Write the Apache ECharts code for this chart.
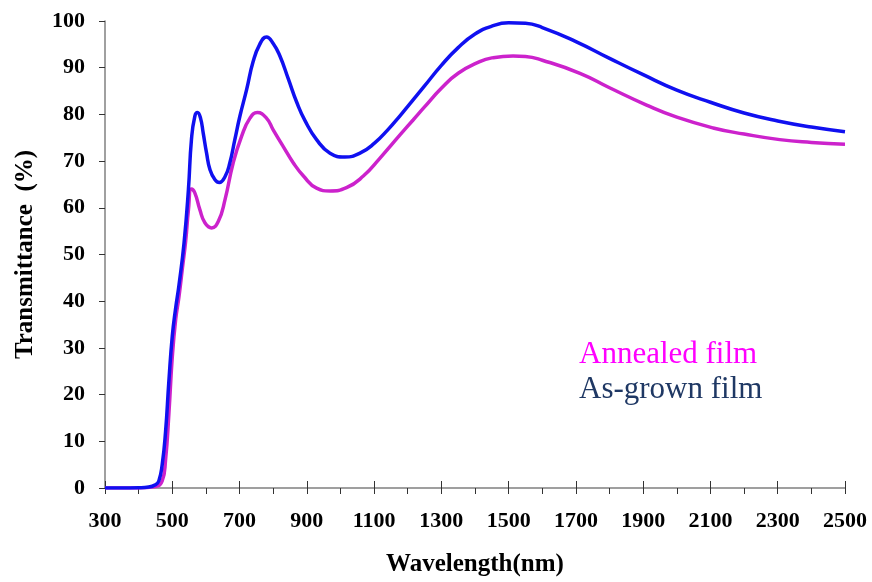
<!DOCTYPE html>
<html>
<head>
<meta charset="utf-8">
<script src="https://cdn.jsdelivr.net/npm/echarts@6/dist/echarts.min.js"></script>
<style>
  html, body { margin: 0; padding: 0; background: #fff; }
  #chart { width: 872px; height: 582px; }
</style>
</head>
<body>
<div id="chart"></div>
<script>
// Optical transmittance spectra of the film, as-grown and after annealing
const wavelengthTicks = [300, 500, 700, 900, 1100, 1300, 1500, 1700, 1900, 2100, 2300, 2500];
const transmittanceTicks = [0, 10, 20, 30, 40, 50, 60, 70, 80, 90, 100];

const asGrownNm = [300, 350, 400, 430, 450, 460, 470, 480, 490, 500, 510, 520, 535, 548, 557, 567, 575, 584, 592, 602, 612, 627, 640, 657, 671, 686, 701, 721, 740, 760, 780, 800, 820, 845, 870, 895, 929, 969, 1013, 1058, 1102, 1142, 1177, 1216, 1250, 1300, 1350, 1400, 1450, 1500, 1550, 1600, 1700, 1800, 1900, 2000, 2100, 2200, 2300, 2400, 2500];
const asGrownT = [0, 0, 0.05, 0.2, 0.7, 1.5, 5, 12, 23, 32.5, 38.5, 43.5, 52.5, 63.9, 74.6, 79.6, 80.4, 79.2, 76, 71.7, 68.2, 66, 65.4, 66.7, 69.6, 74.6, 79.6, 85.3, 91.2, 95, 96.6, 95.2, 92.5, 87.6, 82.6, 78.6, 74.6, 71.7, 70.9, 71.7, 73.9, 76.8, 79.7, 83.1, 86.1, 90.5, 94.3, 97.2, 98.9, 99.6, 99.5, 98.6, 95.6, 92, 88.5, 85.2, 82.6, 80.3, 78.6, 77.3, 76.3];

const annealedNm = [300, 400, 450, 470, 480, 490, 500, 510, 520, 530, 540, 548, 557, 567, 582, 597, 617, 637, 657, 681, 706, 731, 753, 780, 800, 830, 860, 890, 929, 969, 1018, 1068, 1117, 1177, 1216, 1250, 1300, 1350, 1414, 1450, 1513, 1550, 1600, 1712, 1800, 1910, 2000, 2108, 2200, 2306, 2400, 2500];
const annealedT = [0, 0, 0.3, 1.5, 6, 16, 28, 36, 41, 47, 53, 59.5, 64, 63.2, 59.6, 56.8, 55.7, 57.1, 61.8, 69.6, 75.3, 79.2, 80.4, 79.2, 76.7, 73.1, 69.6, 66.8, 64.2, 63.6, 64.3, 66.8, 70.6, 75.6, 78.8, 81.6, 85.6, 88.8, 91.3, 92.1, 92.5, 92.4, 91.6, 88.8, 85.7, 82, 79.4, 77.1, 75.8, 74.6, 74, 73.6];

const seriesNames = ['Annealed film', 'As-grown film'];

const zip = (xs, ys) => xs.map((x, i) => [x, ys[i]]);

const chart = echarts.init(document.getElementById('chart'), null, { renderer: 'canvas' });

const serif = '"Liberation Serif", "Times New Roman", serif';
const plain = v => String(v);

chart.setOption({
  animation: false,
  backgroundColor: '#ffffff',
  grid: { left: 105, right: 27, top: 21, bottom: 93, containLabel: false },
  xAxis: [
    {
      type: 'value',
      min: wavelengthTicks[0],
      max: wavelengthTicks[wavelengthTicks.length - 1],
      interval: wavelengthTicks[1] - wavelengthTicks[0],
      name: 'Wavelength(nm)',
      nameLocation: 'middle',
      nameGap: 64,
      nameTextStyle: { fontFamily: serif, fontWeight: 'bold', fontSize: 25, color: '#000' },
      axisLine: { show: true, onZero: false, lineStyle: { color: '#808080', width: 1.5 } },
      axisTick: { show: true, length: 6, lineStyle: { color: '#333', width: 1 } },
      minorTick: { show: true, splitNumber: 2, length: 6, lineStyle: { color: '#333', width: 1 } },
      splitLine: { show: false },
      axisLabel: { margin: 22, formatter: plain, fontFamily: serif, fontWeight: 'bold', fontSize: 22, color: '#000' }
    },
    {
      // upper half of the crossing major ticks
      type: 'value',
      position: 'bottom',
      min: wavelengthTicks[0],
      max: wavelengthTicks[wavelengthTicks.length - 1],
      interval: wavelengthTicks[1] - wavelengthTicks[0],
      axisLine: { show: false, onZero: false },
      axisTick: { show: true, inside: true, length: 7, lineStyle: { color: '#333', width: 1 } },
      axisLabel: { show: false },
      splitLine: { show: false }
    }
  ],
  yAxis: {
    type: 'value',
    min: transmittanceTicks[0],
    max: transmittanceTicks[transmittanceTicks.length - 1],
    interval: transmittanceTicks[1] - transmittanceTicks[0],
    name: 'Transmittance  (%)',
    nameLocation: 'middle',
    nameGap: 67,
    nameTextStyle: { fontFamily: serif, fontWeight: 'bold', fontSize: 25, color: '#000' },
    axisLine: { show: true, onZero: false, lineStyle: { color: '#808080', width: 1.5 } },
    axisTick: { show: true, length: 6, lineStyle: { color: '#333', width: 1 } },
    splitLine: { show: false },
    axisLabel: { margin: 20, formatter: plain, fontFamily: serif, fontWeight: 'bold', fontSize: 22, color: '#000' }
  },
  series: [
    {
      name: seriesNames[0],
      type: 'line',
      data: zip(annealedNm, annealedT),
      smooth: 0.5,
      showSymbol: false,
      lineStyle: { color: '#CC22CC', width: 3.5 },
      z: 2
    },
    {
      name: seriesNames[1],
      type: 'line',
      data: zip(asGrownNm, asGrownT),
      smooth: 0.5,
      showSymbol: false,
      lineStyle: { color: '#1010F0', width: 3.5 },
      z: 3
    }
  ],
  graphic: [
    {
      type: 'text',
      left: 579,
      top: 339,
      style: { text: seriesNames[0], fontFamily: serif, fontSize: 31, fill: '#FF00FF' }
    },
    {
      type: 'text',
      left: 579,
      top: 374,
      style: { text: seriesNames[1], fontFamily: serif, fontSize: 31, fill: '#1F3864' }
    }
  ]
});
</script>
</body>
</html>
